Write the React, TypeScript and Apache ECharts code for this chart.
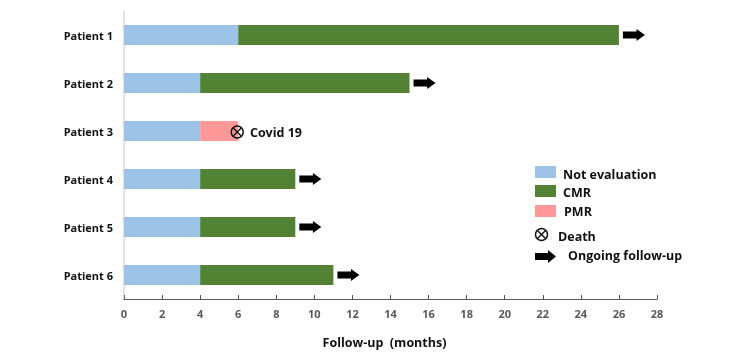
import React, { useEffect, useRef } from "react";
import * as echarts from "echarts";

const patients = ["Patient 1", "Patient 2", "Patient 3", "Patient 4", "Patient 5", "Patient 6"];
const notEvaluation = [6, 4, 4, 4, 4, 4];
const cmr = [20, 11, 0, 5, 5, 7];
const pmr = [0, 0, 2, 0, 0, 0];
const ongoing = [true, true, false, true, true, true];
const deathIndex = [2];
const deathLabel = "Covid 19";
const xTicks = { min: 0, max: 28, interval: 2 };

const FONT = "'Open Sans', 'Noto Sans', sans-serif";
const ARROW = "path://M0,2.5 L13,2.5 L13,0 L21,6 L13,12 L13,9.5 L0,9.5 Z";
const CROSS = "path://M0,0 L10,10 M10,0 L0,10";

export default function App() {
  const ref = useRef<HTMLDivElement>(null);
  useEffect(() => {
    if (!ref.current) return;
    const chart = echarts.init(ref.current, null, { renderer: "svg" });
    const totals = patients.map((_, i) => notEvaluation[i] + cmr[i] + pmr[i]);
    const arrowData = patients
      .map((p, i) => (ongoing[i] ? [totals[i], p] : null))
      .filter((d) => d !== null);
    const deathData = deathIndex.map((i) => [totals[i], patients[i]]);
    const legendX = 535;
    const legendText = (x: number, y: number, t: string) => ({
      type: "text",
      x,
      y,
      style: { text: t, font: `bold 12.5px ${FONT}`, fill: "#111", verticalAlign: "middle" },
    });
    chart.setOption({
      animation: false,
      textStyle: { fontFamily: FONT },
      grid: { left: 124, right: 89, top: 11, bottom: 56, containLabel: false },
      xAxis: {
        type: "value",
        min: xTicks.min,
        max: xTicks.max,
        interval: xTicks.interval,
        name: "Follow-up  (months)",
        nameLocation: "middle",
        nameGap: 37,
        nameTextStyle: { fontWeight: "bold", fontSize: 12.5, color: "#111", fontFamily: FONT, padding: [0, 12, 0, 0] },
        axisLine: { show: true, lineStyle: { color: "#595959", width: 1 } },
        axisTick: { show: true, inside: true, length: 4, lineStyle: { color: "#595959" } },
        axisLabel: { color: "#595959", fontWeight: "bold", fontSize: 11, margin: 9, fontFamily: FONT },
        splitLine: { show: false },
      },
      yAxis: {
        type: "category",
        data: patients,
        inverse: true,
        axisLine: { show: true, lineStyle: { color: "#D9D9D9", width: 1.5 } },
        axisTick: { show: false },
        axisLabel: { color: "#111", fontWeight: "bold", fontSize: 11, margin: 11, fontFamily: FONT },
      },
      series: [
        {
          name: "Not evaluation",
          type: "bar",
          stack: "a",
          barWidth: 20,
          data: notEvaluation,
          itemStyle: { color: "#9DC3E6" },
        },
        {
          name: "CMR",
          type: "bar",
          stack: "a",
          barWidth: 20,
          data: cmr,
          itemStyle: { color: "#548235" },
        },
        {
          name: "PMR",
          type: "bar",
          stack: "a",
          barWidth: 20,
          data: pmr,
          itemStyle: { color: "#FF9999" },
        },
        {
          name: "Ongoing follow-up",
          type: "scatter",
          data: arrowData,
          symbol: ARROW,
          symbolSize: [22, 12],
          symbolOffset: [15, 0],
          itemStyle: { color: "#000", opacity: 1 },
          z: 5,
        },
        {
          name: "Death",
          type: "scatter",
          data: deathData,
          symbol: "circle",
          symbolSize: 12,
          symbolOffset: [-1, 1],
          itemStyle: { color: "rgba(0,0,0,0)", borderColor: "#111", borderWidth: 1.4, opacity: 1 },
          label: {
            show: true,
            position: "right",
            distance: 6,
            formatter: deathLabel,
            color: "#111",
            fontWeight: "bold",
            fontSize: 12.5,
            fontFamily: FONT,
          },
          z: 5,
        },
        {
          name: "DeathCross",
          type: "scatter",
          data: deathData,
          symbol: CROSS,
          symbolSize: 7.5,
          symbolOffset: [-1, 1],
          itemStyle: { color: "rgba(0,0,0,0)", borderColor: "#111", borderWidth: 1.4, opacity: 1 },
          z: 6,
        },
      ],
      graphic: [
        { type: "rect", x: legendX, y: 166, shape: { width: 21, height: 12 }, style: { fill: "#9DC3E6" } },
        legendText(563, 174, "Not evaluation"),
        { type: "rect", x: legendX, y: 185, shape: { width: 21, height: 12 }, style: { fill: "#548235" } },
        legendText(563, 192, "CMR"),
        { type: "rect", x: legendX, y: 205, shape: { width: 21, height: 12 }, style: { fill: "#FF9999" } },
        legendText(564, 211, "PMR"),
        { type: "circle", shape: { cx: 541.5, cy: 234.5, r: 6 }, style: { fill: "none", stroke: "#111", lineWidth: 1.4 } },
        { type: "line", shape: { x1: 537.7, y1: 230.7, x2: 545.3, y2: 238.3 }, style: { stroke: "#111", lineWidth: 1.4 } },
        { type: "line", shape: { x1: 545.3, y1: 230.7, x2: 537.7, y2: 238.3 }, style: { stroke: "#111", lineWidth: 1.4 } },
        legendText(558, 236, "Death"),
        {
          type: "polygon",
          shape: { points: [[535, 253], [548, 253], [548, 250], [556, 256.5], [548, 263], [548, 260], [535, 260]] },
          style: { fill: "#000" },
        },
        legendText(568, 255, "Ongoing follow-up"),
      ],
    });
    return () => chart.dispose();
  }, []);
  return <div ref={ref} style={{ width: 746, height: 355, position: "fixed", left: 0, top: 0 }} />;
}
